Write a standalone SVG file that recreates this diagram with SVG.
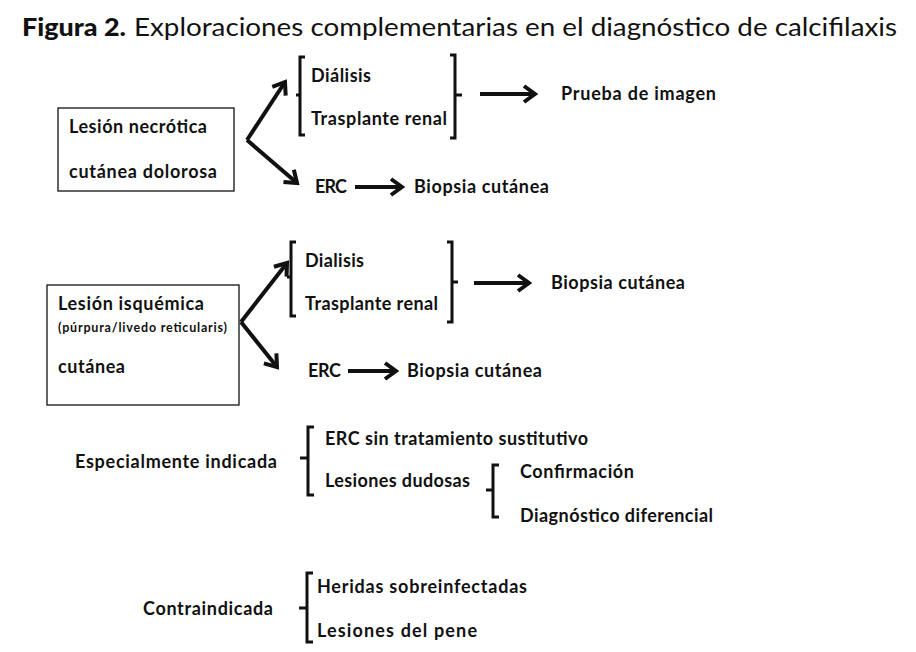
<svg xmlns="http://www.w3.org/2000/svg" width="916" height="652" viewBox="0 0 916 652">
<style>
text{font-family:Lato,"Open Sans","Liberation Sans",sans-serif;fill:#111}
.b{font-weight:bold;font-size:18px}
.s{font-weight:bold;font-size:12.5px}
.t{font-size:25px}
.tb{font-size:25px;font-weight:900}
.box{fill:#fff;stroke:#111;stroke-width:1.3}
.br{fill:none;stroke:#111;stroke-width:3;stroke-linejoin:miter}
.ar{fill:none;stroke:#111;stroke-width:4;marker-end:url(#ch)}
</style>
<defs>
<marker id="ch" markerUnits="userSpaceOnUse" viewBox="0 0 16 20" markerWidth="16" markerHeight="20" refX="13" refY="10" orient="auto">
<path d="M2,2 L13,10 L2,18" fill="none" stroke="#111" stroke-width="4" stroke-linejoin="miter"/>
</marker>
</defs>
<rect width="916" height="652" fill="#fff"/>
<g id="title">
<text class="tb" x="22" y="36" textLength="104" lengthAdjust="spacingAndGlyphs">Figura 2.</text>
<text class="t" x="134" y="36" textLength="763" lengthAdjust="spacingAndGlyphs">Exploraciones complementarias en el diagnóstico de calcifilaxis</text>
</g>
<g id="connectors">
<line class="ar" x1="247" y1="140" x2="285" y2="82"/>
<line class="ar" x1="247" y1="140" x2="297" y2="183"/>
<line class="ar" x1="480" y1="94" x2="535" y2="94"/>
<line class="ar" x1="355" y1="187" x2="402" y2="187"/>
<line class="ar" x1="241" y1="322" x2="287" y2="263"/>
<line class="ar" x1="241" y1="322" x2="277" y2="367"/>
<line class="ar" x1="474" y1="283" x2="529" y2="283"/>
<line class="ar" x1="348" y1="371" x2="396" y2="371"/>
<path class="br" d="M305,57 L300,57 L300,135 L305,135 M300,95 L296,95"/>
<path class="br" d="M450,55 L455,55 L455,138 L450,138 M455,95 L462,95"/>
<path class="br" d="M296,242 L291,242 L291,316 L296,316 M291,277 L287,277"/>
<path class="br" d="M447,242 L452,242 L452,322 L447,322 M452,282 L458,282"/>
<path class="br" d="M314,427 L308,427 L308,495 L314,495 M308,458 L300,458"/>
<path class="br" d="M499,465 L493,465 L493,517 L499,517 M493,490 L486,490"/>
<path class="br" d="M313,573 L307,573 L307,642 L313,642 M307,608 L299,608"/>
</g>
<g id="n-necrotica">
<rect class="box" x="58" y="108" width="176" height="83"/>
<text class="b" x="69" y="133" textLength="138">Lesión necrótica</text>
<text class="b" x="69" y="178" textLength="148">cutánea dolorosa</text>
</g>
<g id="n-dialisis1"><text class="b" x="311" y="82" textLength="60">Diálisis</text></g>
<g id="n-trasplante1"><text class="b" x="311" y="125" textLength="136">Trasplante renal</text></g>
<g id="n-prueba"><text class="b" x="561" y="100" textLength="155">Prueba de imagen</text></g>
<g id="n-erc1"><text class="b" x="315" y="193" textLength="32">ERC</text></g>
<g id="n-biopsia1"><text class="b" x="414" y="193" textLength="135">Biopsia cutánea</text></g>
<g id="n-isquemica">
<rect class="box" x="47" y="285" width="192" height="120"/>
<text class="b" x="58" y="310" textLength="146">Lesión isquémica</text>
<text class="s" x="58" y="332" textLength="169">(púrpura/livedo reticularis)</text>
<text class="b" x="58" y="373" textLength="67">cutánea</text>
</g>
<g id="n-dialisis2"><text class="b" x="305" y="267" textLength="59">Dialisis</text></g>
<g id="n-trasplante2"><text class="b" x="305" y="310" textLength="133">Trasplante renal</text></g>
<g id="n-biopsia2"><text class="b" x="551" y="289" textLength="134">Biopsia cutánea</text></g>
<g id="n-erc2"><text class="b" x="308" y="377" textLength="33">ERC</text></g>
<g id="n-biopsia3"><text class="b" x="407" y="377" textLength="135">Biopsia cutánea</text></g>
<g id="n-especialmente"><text class="b" x="75" y="468" textLength="202">Especialmente indicada</text></g>
<g id="n-ercsin"><text class="b" x="325" y="445" textLength="263">ERC sin tratamiento sustitutivo</text></g>
<g id="n-dudosas"><text class="b" x="325" y="487" textLength="145">Lesiones dudosas</text></g>
<g id="n-confirmacion"><text class="b" x="520" y="478" textLength="114">Confirmación</text></g>
<g id="n-diferencial"><text class="b" x="520" y="522" textLength="193">Diagnóstico diferencial</text></g>
<g id="n-contraindicada"><text class="b" x="143" y="615" textLength="130">Contraindicada</text></g>
<g id="n-heridas"><text class="b" x="317" y="593" textLength="210">Heridas sobreinfectadas</text></g>
<g id="n-pene"><text class="b" x="317" y="637" textLength="160">Lesiones del pene</text></g>
</svg>
